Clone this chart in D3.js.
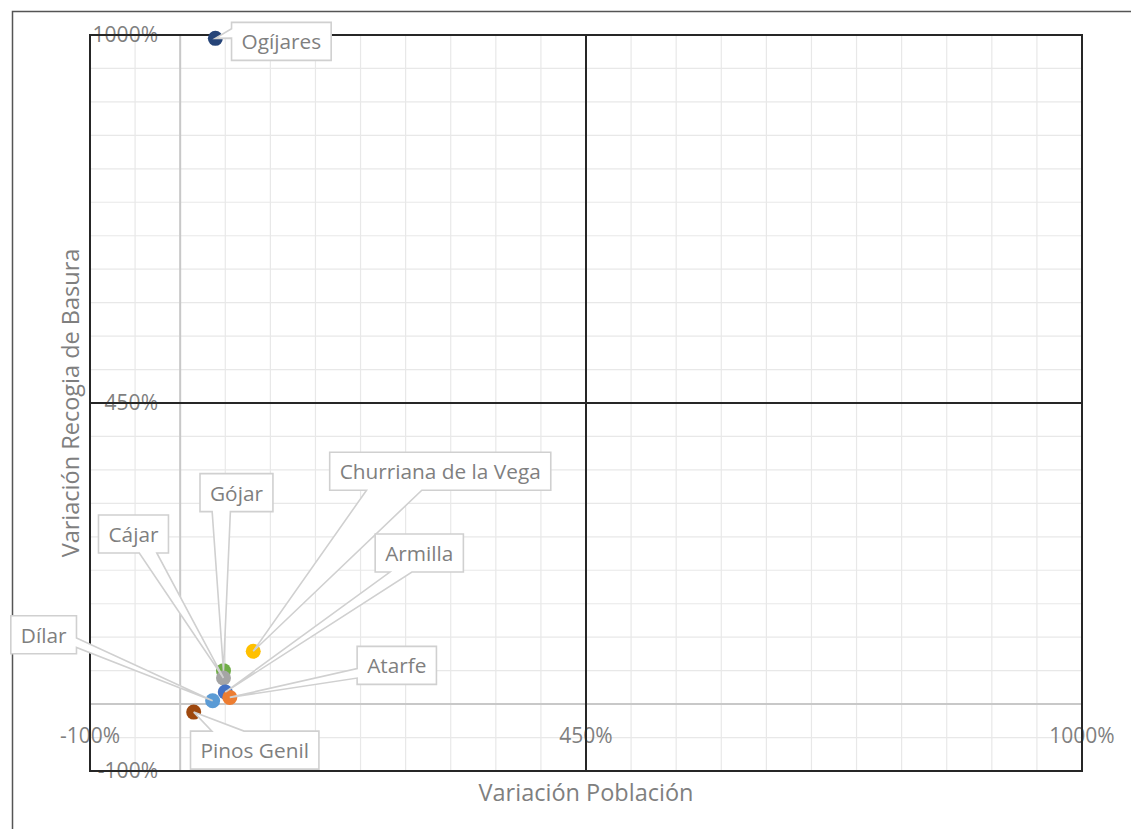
<!DOCTYPE html>
<html><head><meta charset="utf-8">
<script src="https://cdn.jsdelivr.net/npm/d3@7"></script>
<style>body{margin:0;background:#fff} svg{display:block} text{font-family:"Open Sans",sans-serif}</style>
</head><body><svg id="c" width="1131" height="829"></svg>
<script>
const municipios = ["Ogíjares","Churriana de la Vega","Gójar","Cájar","Armilla","Atarfe","Dílar","Pinos Genil"];
const variacionPoblacion = [39, 81, 48, 48, 50, 55, 36, 15];
const variacionBasura = [995, 79, 50, 39, 18, 10, 5, -12];
const colores = ["#264478","#FFC000","#70AD47","#A5A5A5","#4472C4","#ED7D31","#5B9BD5","#9E480E"];
const tickValues = [-100, 450, 1000];
const tickLabels = ["-100%", "450%", "1000%"];
const gridStep = 50;
const labelOffsets = [[66,3],[187,-180],[13,-178],[-90,-144],[194,-139],[167,-32],[-169,-66],[61,38]];

const svg = d3.select("#c");
const x = d3.scaleLinear().domain([-100, 1000]).range([90, 1082]);
const y = d3.scaleLinear().domain([-100, 1000]).range([771, 35]);
const textCol = "#7f7f7f";

// outer frame
svg.append("rect").attr("x",12.5).attr("y",11.5).attr("width",1140).attr("height",840)
  .attr("fill","none").attr("stroke","#555").attr("stroke-width",1.5);

const grid = d3.range(-100, 1001, gridStep);
const g = svg.append("g");
g.selectAll("line.gx").data(grid).join("line")
  .attr("x1",d=>x(d)).attr("x2",d=>x(d)).attr("y1",y(-100)).attr("y2",y(1000))
  .attr("stroke","#e8e8e8").attr("stroke-width",1.2);
g.selectAll("line.gy").data(grid).join("line")
  .attr("y1",d=>y(d)).attr("y2",d=>y(d)).attr("x1",x(-100)).attr("x2",x(1000))
  .attr("stroke","#e8e8e8").attr("stroke-width",1.2);
// zero lines
g.append("line").attr("x1",x(0)).attr("x2",x(0)).attr("y1",y(-100)).attr("y2",y(1000))
  .attr("stroke","#c8c8c8").attr("stroke-width",2);
g.append("line").attr("y1",y(0)).attr("y2",y(0)).attr("x1",x(-100)).attr("x2",x(1000))
  .attr("stroke","#c8c8c8").attr("stroke-width",2);

// tick labels
svg.selectAll("text.xt").data(tickValues).join("text")
  .attr("x",d=>x(d)).attr("y",735).attr("text-anchor","middle").attr("dominant-baseline","central")
  .attr("fill",textCol).attr("font-size",21).text((d,i)=>tickLabels[i]);
svg.selectAll("text.yt").data(tickValues).join("text")
  .attr("x",158).attr("y",d=>y(d)-1).attr("text-anchor","end").attr("dominant-baseline","central")
  .attr("fill",textCol).attr("font-size",21).text((d,i)=>tickLabels[i]);

// black lines (border + 450 crossing)
const blk = svg.append("g").attr("stroke","#262626").attr("stroke-width",2).attr("fill","none");
blk.append("rect").attr("x",x(-100)).attr("y",y(1000)).attr("width",x(1000)-x(-100)).attr("height",y(-100)-y(1000));
blk.append("line").attr("x1",x(450)).attr("x2",x(450)).attr("y1",y(-100)).attr("y2",y(1000));
blk.append("line").attr("y1",y(450)).attr("y2",y(450)).attr("x1",x(-100)).attr("x2",x(1000));

// axis titles
svg.append("text").attr("x",586).attr("y",792).attr("text-anchor","middle").attr("dominant-baseline","central")
  .attr("fill",textCol).attr("font-size",23.5).text("Variación Población");
svg.append("text").attr("transform","translate(70,403) rotate(-90)").attr("text-anchor","middle").attr("dominant-baseline","central")
  .attr("fill",textCol).attr("font-size",23.5).text("Variación Recogia de Basura");

const data = municipios.map((m,i)=>({name:m, px:variacionPoblacion[i], py:variacionBasura[i], c:colores[i], off:labelOffsets[i]}));

// points
svg.selectAll("circle.p").data(data).join("circle")
  .attr("cx",d=>x(d.px)).attr("cy",d=>y(d.py)).attr("r",7.5).attr("fill",d=>d.c);

function callout(l,t,w,h,tx,ty){
  const hc=l+w/2, vc=t+h/2, r=l+w, b=t+h;
  const dxPos=tx-hc, dyPos=ty-vc;
  const dq=dxPos*h/w;
  const x1=l+w*(dxPos>0?7:2)/12, x2=l+w*(dxPos>0?10:5)/12;
  const y1=t+h*(dyPos>0?7:2)/12, y2=t+h*(dyPos>0?10:5)/12;
  if (Math.abs(dyPos) > Math.abs(dq)) {
    if (dyPos<0) return `M${l},${t}L${x1},${t}L${tx},${ty}L${x2},${t}L${r},${t}L${r},${b}L${l},${b}Z`;
    return `M${l},${t}L${r},${t}L${r},${b}L${x2},${b}L${tx},${ty}L${x1},${b}L${l},${b}Z`;
  } else {
    if (dxPos<0) return `M${l},${t}L${r},${t}L${r},${b}L${l},${b}L${l},${y2}L${tx},${ty}L${l},${y1}Z`;
    return `M${l},${t}L${r},${t}L${r},${y1}L${tx},${ty}L${r},${y2}L${r},${b}L${l},${b}Z`;
  }
}

const labs = svg.append("g");
data.forEach(d=>{
  const tx = x(d.px), ty = y(d.py);
  const cx = tx + d.off[0], cy = ty + d.off[1];
  const grp = labs.append("g");
  const path = grp.append("path").attr("fill","#fff").attr("stroke","#d0d0d0").attr("stroke-width",1.6);
  const t = grp.append("text").attr("x",cx).attr("y",cy).attr("text-anchor","middle").attr("dominant-baseline","central")
    .attr("fill",textCol).attr("font-size",20.8).text(d.name);
  const w = t.node().getComputedTextLength() + 20, h = 38;
  path.attr("d", callout(cx-w/2, cy-h/2, w, h, tx, ty));
});
</script></body></html>
